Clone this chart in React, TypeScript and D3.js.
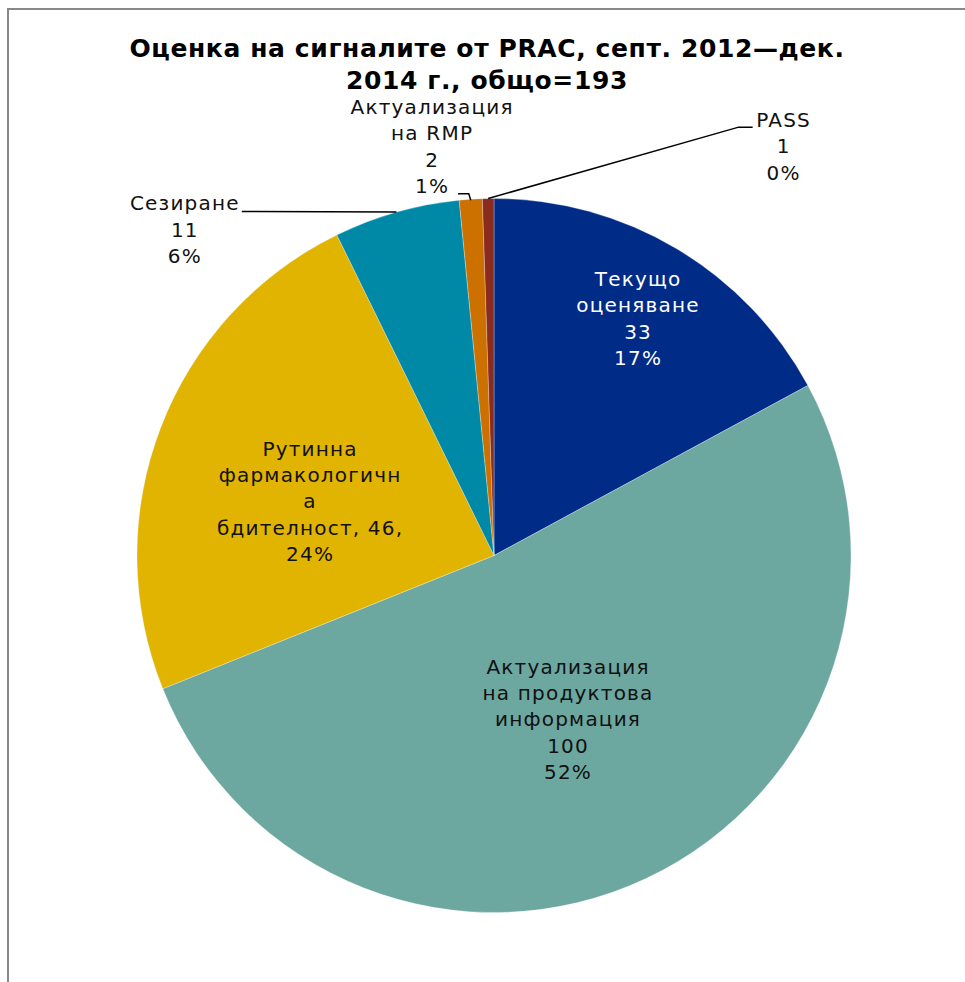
import React from "react";
import * as d3 from "d3";

const categories = [
  "Текущо оценяване",
  "Актуализация на продуктова информация",
  "Рутинна фармакологична бдителност",
  "Сезиране",
  "Актуализация на RMP",
  "PASS",
];
const values = [33, 100, 46, 11, 2, 1];
const percentLabels = ["17%", "52%", "24%", "6%", "1%", "0%"];
const labelLines = [
  ["Текущо", "оценяване", "33", "17%"],
  ["Актуализация", "на продуктова", "информация", "100", "52%"],
  ["Рутинна", "фармакологичн", "а", "бдителност, 46,", "24%"],
  ["Сезиране", "11", "6%"],
  ["Актуализация", "на RMP", "2", "1%"],
  ["PASS", "1", "0%"],
];
const colors = ["#002B87", "#6CA7A0", "#E0B400", "#0089A6", "#CC7000", "#8B2B1E"];
const textColors = ["#ffffff", "#111111", "#111111", "#111111", "#111111", "#111111"];
// label placement in polar terms relative to the pie (angle in degrees, radius factor)
const labelAngle = [31.3, 155.7, 286.4, 316.5, 351.4, 35.3];
const labelRadius = [0.777, 0.504, 0.537, 1.258, 1.159, 1.404];
const titleLines = ["Оценка на сигналите  от PRAC, септ. 2012—дек.", "2014 г., общо=193"];

const W = 965;
const H = 982;
const cx = 494;
const cy = 555.5;
const R = 357;
const lineH = 26.3;

export default function App() {
  const total = d3.sum(values);
  const pie = d3
    .pie<number>()
    .sort(null)
    .value((d) => d)
    .startAngle(0)
    .endAngle(2 * Math.PI);
  const arcs = pie(values);
  const arc = d3.arc<d3.PieArcDatum<number>>().innerRadius(0).outerRadius(R);

  const polar = (angDeg: number, r: number) => {
    const a = (angDeg * Math.PI) / 180;
    return [cx + r * Math.sin(a), cy - r * Math.cos(a)];
  };
  const edgePoint = (i: number, frac: number) => {
    const a = arcs[i].startAngle + (arcs[i].endAngle - arcs[i].startAngle) * frac;
    return [cx + R * Math.sin(a), cy - R * Math.cos(a)];
  };

  const labels = labelLines.map((lines, i) => {
    const [x, y] = polar(labelAngle[i], labelRadius[i] * R);
    return { x, y, lines };
  });

  // leader lines for outside labels
  const sez = labels[3];
  const sezEdge = edgePoint(3, 0.5);
  const rmp = labels[4];
  const rmpEdge = edgePoint(4, 0.5);
  const pass = labels[5];
  const passEdge = edgePoint(5, 0.5);

  const leaders = [
    [[sez.x + 57, sez.y - lineH + 8], [sezEdge[0], sezEdge[1]]],
    [[rmp.x + 26, rmp.y + 1.5 * lineH + 8], [rmpEdge[0] - 2, rmp.y + 1.5 * lineH + 8], [rmpEdge[0], rmpEdge[1] + 1]],
    [[pass.x - 31, pass.y - lineH + 7], [pass.x - 45, pass.y - lineH + 7], [passEdge[0], passEdge[1]]],
  ];

  return (
    <div style={{ position: "absolute", left: 0, top: 0 }}>
      <svg width={W} height={H} style={{ display: "block" }} data-total={total}>
        <rect x={0} y={0} width={W} height={H} fill="#ffffff" />
        <rect x={8} y={9} width={W + 20} height={H + 20} fill="none" stroke="#888888" strokeWidth={2} />
        <g fontFamily="DejaVu Sans, Verdana, sans-serif" fontWeight="bold" fontSize={25} letterSpacing={0.6} textAnchor="middle" fill="#000">
          {titleLines.map((t, i) => (
            <text key={i} x={487} y={57 + i * 32}>
              {t}
            </text>
          ))}
        </g>
        <g>
          {arcs.map((a, i) => (
            <path
              key={categories[i]}
              d={arc(a) || ""}
              transform={`translate(${cx},${cy})`}
              fill={colors[i]}
              stroke="#ffffff"
              strokeOpacity={0.4}
              strokeWidth={0.7}
            />
          ))}
        </g>
        <g fill="none" stroke="#000" strokeWidth={1.5}>
          {leaders.map((pts, i) => (
            <polyline key={i} points={pts.map((p) => p.join(",")).join(" ")} />
          ))}
        </g>
        <g fontFamily="DejaVu Sans, Verdana, sans-serif" fontSize={20} letterSpacing={1.2} textAnchor="middle">
          {labels.map((l, i) => (
            <text key={i} fill={textColors[i]} data-pct={percentLabels[i]}>
              {l.lines.map((s, j) => (
                <tspan
                  key={j}
                  x={l.x}
                  y={l.y + (j - (l.lines.length - 1) / 2) * lineH}
                  dy="0.35em"
                >
                  {s}
                </tspan>
              ))}
            </text>
          ))}
        </g>
      </svg>
    </div>
  );
}
